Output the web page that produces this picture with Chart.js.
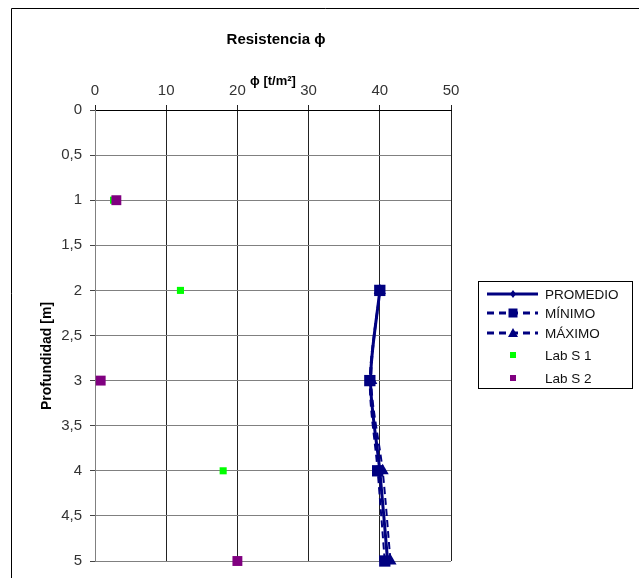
<!DOCTYPE html>
<html><head><meta charset="utf-8">
<script src="https://cdn.jsdelivr.net/npm/chart.js@4/dist/chart.umd.min.js"></script>
<style>html,body{margin:0;padding:0;background:#fff}#wrap{position:relative;width:639px;height:578px}</style>
</head><body><div id="wrap"><canvas id="c" width="639" height="578"></canvas></div>
<script>
// ---- data ----
const depths = [2, 3, 4, 5];
const promedio = [40.0, 38.7, 40.0, 41.1];
const minimo = [40.0, 38.6, 39.7, 40.7];
const maximo = [40.0, 38.8, 40.4, 41.5];
const labS1Depths = [1, 2, 4];
const labS1 = [2.6, 12.0, 18.0];
const labS2Depths = [1, 3, 5];
const labS2 = [3.0, 0.8, 20.0];
const xTickValues = [0, 10, 20, 30, 40, 50];
const yTickValues = [0, 0.5, 1, 1.5, 2, 2.5, 3, 3.5, 4, 4.5, 5];
const seriesNames = ['PROMEDIO', 'MÍNIMO', 'MÁXIMO', 'Lab S 1', 'Lab S 2'];
const chartTitle = 'Resistencia ϕ';
const xTitle = 'ϕ [t/m²]';
const yTitle = 'Profundidad [m]';

const NAVY = '#000080';
const pts = (xs, ys) => xs.map((x, i) => ({x: x, y: ys[i]}));

const overlay = {
  id: 'overlay',
  afterDraw(chart) {
    const ctx = chart.ctx;
    ctx.save();
    // outer frame (partly visible)
    ctx.strokeStyle = '#000'; ctx.lineWidth = 1;
    ctx.beginPath();
    ctx.moveTo(11.5, 578); ctx.lineTo(11.5, 8.5); ctx.lineTo(639, 8.5);
    ctx.stroke();
    // title
    ctx.fillStyle = '#000';
    ctx.textAlign = 'center'; ctx.textBaseline = 'alphabetic';
    ctx.font = 'bold 15px "Liberation Sans", Arial, sans-serif';
    ctx.fillText(chartTitle, 276, 44);
    // x title
    ctx.font = 'bold 13px "Liberation Sans", Arial, sans-serif';
    ctx.fillText(xTitle, 273, 85);
    // y title
    ctx.save();
    ctx.translate(51, 356);
    ctx.rotate(-Math.PI / 2);
    ctx.font = 'bold 14px "Liberation Sans", Arial, sans-serif';
    ctx.fillText(yTitle, 0, 0);
    ctx.restore();
    // legend
    ctx.strokeStyle = '#000'; ctx.lineWidth = 1;
    ctx.strokeRect(478.5, 281.5, 154, 107);
    const rows = [
      {y: 294, line: true, dash: [], marker: 'diamond', color: NAVY},
      {y: 313, line: true, dash: [7, 5], marker: 'square', color: NAVY},
      {y: 333, line: true, dash: [7, 5], marker: 'triangle', color: NAVY},
      {y: 355, line: false, marker: 'small', color: '#00FF00'},
      {y: 378, line: false, marker: 'small', color: '#800080'}
    ];
    rows.forEach((r, i) => {
      if (r.line) {
        ctx.save();
        ctx.strokeStyle = r.color; ctx.lineWidth = 3;
        ctx.setLineDash(r.dash);
        ctx.beginPath(); ctx.moveTo(487, r.y); ctx.lineTo(538, r.y); ctx.stroke();
        ctx.restore();
      }
      ctx.fillStyle = r.color;
      const cx = 513, cy = r.y;
      ctx.beginPath();
      if (r.marker === 'diamond') {
        ctx.moveTo(cx, cy - 4); ctx.lineTo(cx + 3, cy); ctx.lineTo(cx, cy + 4); ctx.lineTo(cx - 3, cy); ctx.closePath();
      } else if (r.marker === 'square') {
        ctx.rect(cx - 4.5, cy - 4.5, 9, 9);
      } else if (r.marker === 'triangle') {
        ctx.moveTo(cx, cy - 5); ctx.lineTo(cx + 5, cy + 4); ctx.lineTo(cx - 5, cy + 4); ctx.closePath();
      } else {
        ctx.rect(cx - 3, cy - 3, 6, 6);
      }
      ctx.fill();
      ctx.fillStyle = '#111';
      ctx.textAlign = 'left'; ctx.textBaseline = 'middle';
      ctx.font = '13.5px "Liberation Sans", Arial, sans-serif';
      ctx.fillText(seriesNames[i], 545, r.y + 1);
    });
    ctx.restore();
  }
};

new Chart(document.getElementById('c'), {
  type: 'scatter',
  data: {
    datasets: [
      {label: seriesNames[4], data: pts(labS2, labS2Depths), pointStyle: 'rect', pointRadius: 7,
        backgroundColor: '#800080', borderColor: '#800080', borderWidth: 0, showLine: false, clip: false},
      {label: seriesNames[3], data: pts(labS1, labS1Depths), pointStyle: 'rect', pointRadius: 5,
        backgroundColor: '#00FF00', borderColor: '#00FF00', borderWidth: 0, showLine: false, clip: false},
      {label: seriesNames[0], data: pts(promedio, depths), showLine: true, tension: 0.3,
        borderColor: NAVY, borderWidth: 3, pointStyle: 'rectRot', pointRadius: 5,
        backgroundColor: NAVY, pointBorderWidth: 0, clip: false},
      {label: seriesNames[1], data: pts(minimo, depths), showLine: true, tension: 0.3,
        borderColor: NAVY, borderWidth: 2, borderDash: [7, 4], pointStyle: 'rect', pointRadius: 8,
        backgroundColor: NAVY, pointBorderWidth: 0, clip: false},
      {label: seriesNames[2], data: pts(maximo, depths), showLine: true, tension: 0.3,
        borderColor: NAVY, borderWidth: 2, borderDash: [7, 4], pointStyle: 'triangle', pointRadius: 7,
        backgroundColor: NAVY, pointBorderWidth: 0, clip: false}
    ]
  },
  options: {
    responsive: false, animation: false, devicePixelRatio: 1,
    layout: {padding: {left: 0, top: 0, right: 188, bottom: 14}},
    plugins: {legend: {display: false}, tooltip: {enabled: false}, title: {display: false}},
    scales: {
      x: {
        type: 'linear', position: 'top', min: 0, max: 50,
        afterBuildTicks: s => { s.ticks = xTickValues.map(v => ({value: v})); },
        afterFit: s => { s.height = 110; },
        grid: {color: '#222', lineWidth: 1, drawTicks: true, tickLength: 5, tickColor: '#222'},
        border: {color: '#000', width: 1},
        ticks: {padding: 5, color: '#333', font: {family: '"Liberation Sans", Arial, sans-serif', size: 15}, maxRotation: 0}
      },
      y: {
        type: 'linear', reverse: true, min: 0, max: 5,
        afterBuildTicks: s => { s.ticks = yTickValues.map(v => ({value: v})); },
        afterFit: s => { s.width = 95; },
        grid: {color: '#808080', lineWidth: 1, drawTicks: true, tickLength: 5, tickColor: '#444'},
        border: {color: '#808080', width: 1},
        ticks: {padding: 8, color: '#333', font: {family: '"Liberation Sans", Arial, sans-serif', size: 15},
          callback: v => String(v).replace('.', ',')}
      }
    }
  },
  plugins: [overlay]
});
</script>
</body></html>
